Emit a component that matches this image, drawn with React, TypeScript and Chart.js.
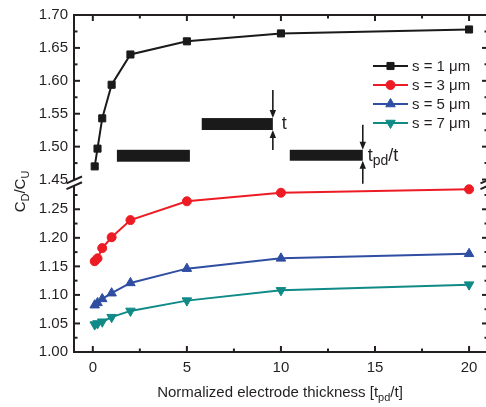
import React, { useEffect, useRef } from 'react';
import { Chart, registerables } from 'chart.js';
import { drawPoint } from 'chart.js/helpers';

Chart.register(...registerables);

// ---- data ----
const X_VALUES = [0.1, 0.25, 0.5, 1, 2, 5, 10, 20];
const S1 = [1.470, 1.497, 1.543, 1.594, 1.640, 1.660, 1.672, 1.678];
const S3 = [1.159, 1.164, 1.182, 1.201, 1.231, 1.264, 1.279, 1.285];
const S5 = [1.082, 1.086, 1.093, 1.103, 1.121, 1.146, 1.164, 1.172];
const S7 = [1.048, 1.050, 1.053, 1.061, 1.072, 1.090, 1.108, 1.118];
const SERIES_LABELS = ['s = 1 \u03BCm', 's = 3 \u03BCm', 's = 5 \u03BCm', 's = 7 \u03BCm'];

const X_TICKS = [0, 5, 10, 15, 20];
const X_MINOR_TICKS = [2.5, 7.5, 12.5, 17.5];
const Y_LOWER_TICKS = [1.0, 1.05, 1.1, 1.15, 1.2, 1.25];
const Y_LOWER_MINOR = [1.025, 1.075, 1.125, 1.175, 1.225, 1.275];
const Y_UPPER_TICKS = [1.45, 1.5, 1.55, 1.6, 1.65, 1.7];
const Y_UPPER_MINOR = [1.475, 1.525, 1.575, 1.625, 1.675];

const X_MIN = -1;
const X_MAX = 20.9;
const Y_LOWER_RANGE = [1.0, 1.5903];
const Y_UPPER_RANGE = [1.188, 1.7];
const BREAK_VALUE = 1.3; // lower axis top where the break sits

const FONT = "'Liberation Sans', Arial, Helvetica, sans-serif";
const INK = '#231f20';
const COLORS = ['#1a1a1a', '#ed1c24', '#2f4ea2', '#0f8a86'];
const STYLES = [
  { pointStyle: 'rect', radius: 5, rotation: 0 },
  { pointStyle: 'circle', radius: 4.5, rotation: 0 },
  { pointStyle: 'triangle', radius: 5.5, rotation: 0 },
  { pointStyle: 'triangle', radius: 5.5, rotation: 180 },
];

function drawTextRuns(ctx: CanvasRenderingContext2D, runs: { t: string; sub?: boolean }[], cx: number, cy: number, main: number, sub: number, subShift: number) {
  let total = 0;
  const widths = runs.map((r) => {
    ctx.font = `${r.sub ? sub : main}px ${FONT}`;
    const w = ctx.measureText(r.t).width;
    total += w;
    return w;
  });
  let x = cx - total / 2;
  runs.forEach((r, i) => {
    ctx.font = `${r.sub ? sub : main}px ${FONT}`;
    ctx.fillText(r.t, x, cy + (r.sub ? subShift : 0));
    x += widths[i];
  });
}

const framePlugin = {
  id: 'frame',
  afterDraw(chart: any) {
    const { ctx, chartArea: a, scales } = chart;
    const xs = scales.x, yL = scales.yL, yU = scales.yU;
    const right = a.right + 2; // right axis sits just past the canvas edge
    ctx.save();
    // upper-segment tick labels (upper scale is a hidden overlay scale)
    ctx.fillStyle = INK;
    ctx.font = `15px ${FONT}`;
    ctx.textAlign = 'right';
    ctx.textBaseline = 'middle';
    Y_UPPER_TICKS.forEach((v) => {
      ctx.fillText(v.toFixed(2), a.left - 6, yU.getPixelForValue(v));
    });
    ctx.strokeStyle = INK;
    ctx.lineWidth = 2;
    ctx.strokeRect(a.left, a.top, right - a.left, a.bottom - a.top);
    const tick = (x1: number, y1: number, x2: number, y2: number) => {
      ctx.beginPath();
      ctx.moveTo(x1, y1);
      ctx.lineTo(x2, y2);
      ctx.stroke();
    };
    X_TICKS.forEach((v) => {
      const p = xs.getPixelForValue(v);
      tick(p, a.bottom, p, a.bottom - 6);
      tick(p, a.top, p, a.top + 6);
    });
    X_MINOR_TICKS.forEach((v) => {
      const p = xs.getPixelForValue(v);
      tick(p, a.bottom, p, a.bottom - 3.5);
      tick(p, a.top, p, a.top + 3.5);
    });
    const yMajor = [
      ...Y_LOWER_TICKS.map((v) => yL.getPixelForValue(v)),
      ...Y_UPPER_TICKS.map((v) => yU.getPixelForValue(v)),
    ];
    const yMinor = [
      ...Y_LOWER_MINOR.map((v) => yL.getPixelForValue(v)),
      ...Y_UPPER_MINOR.map((v) => yU.getPixelForValue(v)),
    ];
    yMajor.forEach((p) => {
      tick(a.left, p, a.left + 6, p);
      tick(right, p, right - 6, p);
    });
    yMinor.forEach((p) => {
      tick(a.left, p, a.left + 3.5, p);
      tick(right, p, right - 3.5, p);
    });
    // axis breaks
    const by = yL.getPixelForValue(BREAK_VALUE) + 2;
    [a.left, right].forEach((sx) => {
      ctx.fillStyle = '#ffffff';
      ctx.beginPath();
      ctx.moveTo(sx - 7, by + 0.5);
      ctx.lineTo(sx + 8, by - 6.2);
      ctx.lineTo(sx + 8, by - 0.5);
      ctx.lineTo(sx - 7, by + 6.2);
      ctx.closePath();
      ctx.fill();
      tick(sx - 7.5, by + 0.7, sx + 8, by - 6.2);
      tick(sx - 7.5, by + 6.4, sx + 8, by - 0.5);
    });
    ctx.restore();
  },
};

const legendPlugin = {
  id: 'customLegend',
  afterDraw(chart: any) {
    const { ctx, chartArea: a } = chart;
    ctx.save();
    chart.data.datasets.forEach((ds: any, i: number) => {
      const y = a.top + 51 + i * 19;
      const x0 = a.right - 113;
      const x1 = a.right - 78;
      ctx.strokeStyle = ds.borderColor;
      ctx.lineWidth = 2;
      ctx.beginPath();
      ctx.moveTo(x0, y);
      ctx.lineTo(x1, y);
      ctx.stroke();
      ctx.fillStyle = ds.pointBackgroundColor;
      ctx.lineWidth = 1;
      drawPoint(ctx, { pointStyle: ds.pointStyle, radius: ds.pointRadius, rotation: ds.pointRotation, borderWidth: 1 }, (x0 + x1) / 2, y);
      ctx.fillStyle = INK;
      ctx.font = `15px ${FONT}`;
      ctx.textBaseline = 'middle';
      ctx.textAlign = 'left';
      ctx.fillText(ds.label, x1 + 4, y + 1);
    });
    ctx.restore();
  },
};

const titlesPlugin = {
  id: 'titles',
  afterDraw(chart: any) {
    const { ctx, chartArea: a } = chart;
    ctx.save();
    ctx.fillStyle = INK;
    ctx.textBaseline = 'alphabetic';
    ctx.textAlign = 'left';
    drawTextRuns(
      ctx,
      [{ t: 'Normalized electrode thickness [t' }, { t: 'pd', sub: true }, { t: '/t]' }],
      (a.left + a.right) / 2,
      397,
      15,
      11,
      4
    );
    ctx.translate(25, (a.top + a.bottom) / 2 + 8);
    ctx.rotate(-Math.PI / 2);
    drawTextRuns(ctx, [{ t: 'C' }, { t: 'D', sub: true }, { t: '/C' }, { t: 'U', sub: true }], 0, 0, 15, 11, 4);
    ctx.restore();
  },
};

// schematic inset (decoration), positioned in axis units
const INSET_BARS = [
  { x0: 1.28, x1: 5.16, y0: 1.4952, y1: 1.4771 },
  { x0: 5.79, x1: 9.57, y0: 1.5434, y1: 1.5253 },
  { x0: 10.47, x1: 14.35, y0: 1.4952, y1: 1.4786 },
];

const schematicPlugin = {
  id: 'schematic',
  afterDraw(chart: any) {
    const { ctx, scales } = chart;
    const xs = scales.x, yU = scales.yU;
    ctx.save();
    ctx.fillStyle = '#1a1a1a';
    const rects = INSET_BARS.map((b) => {
      const l = xs.getPixelForValue(b.x0), r = xs.getPixelForValue(b.x1);
      const t = yU.getPixelForValue(b.y0), bt = yU.getPixelForValue(b.y1);
      ctx.fillRect(l, t, r - l, bt - t);
      return { l, r, t, b: bt };
    });
    const arrow = (x: number, from: number, to: number) => {
      const dir = Math.sign(to - from);
      ctx.strokeStyle = '#1a1a1a';
      ctx.lineWidth = 1.6;
      ctx.beginPath();
      ctx.moveTo(x, from);
      ctx.lineTo(x, to - dir * 6);
      ctx.stroke();
      ctx.beginPath();
      ctx.moveTo(x, to);
      ctx.lineTo(x - 3.2, to - dir * 8);
      ctx.lineTo(x + 3.2, to - dir * 8);
      ctx.closePath();
      ctx.fill();
    };
    const r2 = rects[1];
    arrow(r2.r, r2.t - 28, r2.t);
    arrow(r2.r, r2.b + 20, r2.b);
    const r3 = rects[2];
    arrow(r3.r, r3.t - 25, r3.t);
    arrow(r3.r, r3.b + 23, r3.b);
    ctx.fillStyle = INK;
    ctx.textBaseline = 'alphabetic';
    ctx.textAlign = 'left';
    ctx.font = `18px ${FONT}`;
    ctx.fillText('t', r2.r + 9, r2.b - 1);
    let x = r3.r + 5;
    const base = r3.b;
    ctx.fillText('t', x, base);
    x += ctx.measureText('t').width;
    ctx.font = `14px ${FONT}`;
    ctx.fillText('pd', x, base + 4);
    x += ctx.measureText('pd').width;
    ctx.font = `18px ${FONT}`;
    ctx.fillText('/t', x, base);
    ctx.restore();
  },
};

export default function App() {
  const canvasRef = useRef<HTMLCanvasElement>(null);
  useEffect(() => {
    const canvas = canvasRef.current;
    if (!canvas) return;
    const series = [S1, S3, S5, S7];
    const datasets = series.map((vals, i) => ({
      label: SERIES_LABELS[i],
      data: X_VALUES.map((x, j) => ({ x, y: vals[j] })),
      yAxisID: i === 0 ? 'yU' : 'yL',
      borderColor: COLORS[i],
      backgroundColor: COLORS[i],
      pointBackgroundColor: COLORS[i],
      pointBorderColor: COLORS[i],
      pointBorderWidth: 1,
      pointStyle: STYLES[i].pointStyle,
      pointRadius: STYLES[i].radius,
      pointRotation: STYLES[i].rotation,
      borderWidth: 2,
      tension: 0,
      fill: false,
    }));
    const tickFont = { family: FONT, size: 15 };
    const chart = new Chart(canvas, {
      type: 'line',
      data: { datasets } as any,
      plugins: [framePlugin, schematicPlugin, legendPlugin, titlesPlugin],
      options: {
        animation: false,
        responsive: false,
        layout: { autoPadding: false, padding: { top: 12, right: 0, left: 0, bottom: 0 } },
        plugins: { legend: { display: false }, tooltip: { enabled: false } },
        scales: {
          x: {
            type: 'linear',
            min: X_MIN,
            max: X_MAX,
            grid: { display: false, drawTicks: false },
            border: { display: false },
            ticks: { font: tickFont, color: INK, padding: 7, callback: (v: any) => String(v) },
            afterBuildTicks: (s: any) => {
              s.ticks = X_TICKS.map((value) => ({ value }));
            },
            afterFit: (s: any) => {
              s.height = 55;
            },
          },
          yU: {
            type: 'linear',
            position: 'left',
            display: false,
            min: Y_UPPER_RANGE[0],
            max: Y_UPPER_RANGE[1],
          },
          yL: {
            type: 'linear',
            position: 'left',
            min: Y_LOWER_RANGE[0],
            max: Y_LOWER_RANGE[1],
            grid: { display: false, drawTicks: false },
            border: { display: false },
            ticks: { font: tickFont, color: INK, padding: 6, callback: (v: any) => Number(v).toFixed(2) },
            afterBuildTicks: (s: any) => {
              s.ticks = Y_LOWER_TICKS.map((value) => ({ value }));
            },
            afterFit: (s: any) => {
              s.width = 74;
            },
          },
        },
      } as any,
    });
    return () => chart.destroy();
  }, []);
  return (
    <div style={{ position: 'fixed', left: 0, top: 0, width: 486, height: 407, background: '#fff' }}>
      <canvas ref={canvasRef} width={486} height={407} />
    </div>
  );
}
